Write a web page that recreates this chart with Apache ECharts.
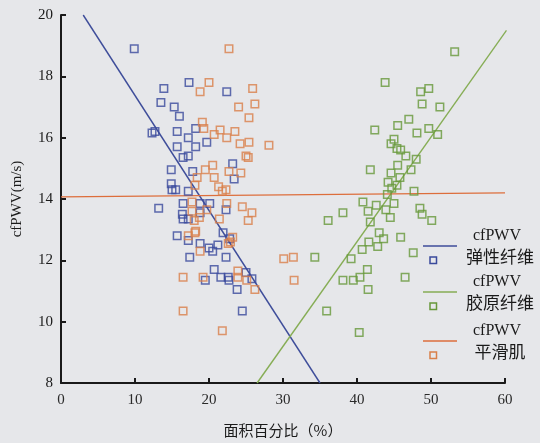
<!DOCTYPE html>
<html>
<head>
<meta charset="utf-8">
<script src="https://cdn.jsdelivr.net/npm/echarts@6/dist/echarts.min.js"></script>
<style>
html,body{margin:0;padding:0;background:#e6e7ea;}
#c{width:540px;height:443px;}
</style>
</head>
<body>
<div id="c"></div>
<script>
var xTicks = [0, 10, 20, 30, 40, 50, 60];
var yTicks = [8, 10, 12, 14, 16, 18, 20];
var seriesNames = ['cfPWV\n弹性纤维', 'cfPWV\n胶原纤维', 'cfPWV\n平滑肌'];

var elasticPts = [
  [9.9,18.9],[17.3,17.8],[13.9,17.6],[22.4,17.5],[13.5,17.15],[15.3,17.0],[16.0,16.7],
  [12.3,16.15],[12.7,16.2],[15.7,16.2],[17.2,16.0],[18.2,16.3],[19.7,15.85],[15.7,15.7],
  [18.2,15.7],[16.5,15.35],[17.2,15.4],[14.9,14.95],[17.8,14.9],[23.2,15.15],[23.4,14.65],
  [14.9,14.5],[15.0,14.3],[15.5,14.3],[17.2,14.25],[13.2,13.7],[16.5,13.85],[18.8,13.85],
  [20.1,13.85],[22.3,13.65],[16.4,13.5],[16.5,13.35],[17.2,13.35],[18.8,13.55],[15.7,12.8],
  [17.2,12.65],[18.8,12.55],[20.0,12.4],[20.5,12.3],[21.2,12.5],[22.3,12.1],[17.4,12.1],
  [20.7,11.7],[21.6,11.45],[22.6,11.45],[22.7,11.35],[19.5,11.35],[23.8,11.05],[25.0,11.6],
  [25.8,11.4],[24.5,10.35],[21.9,12.9],[22.8,12.7]
];
var collagenPts = [
  [53.2,18.8],[43.8,17.8],[49.7,17.6],[48.6,17.5],[48.8,17.1],[51.2,17.0],[47.0,16.6],
  [45.5,16.4],[42.4,16.25],[48.1,16.15],[49.7,16.3],[50.9,16.1],[45.0,15.95],[44.6,15.8],
  [45.4,15.65],[45.9,15.6],[46.6,15.4],[48.0,15.3],[45.5,15.1],[41.8,14.95],[47.3,14.95],
  [44.6,14.85],[45.8,14.7],[44.2,14.55],[45.4,14.45],[44.7,14.35],[47.7,14.25],[44.1,14.15],
  [40.8,13.9],[45.0,13.85],[42.6,13.8],[41.5,13.6],[43.9,13.65],[38.1,13.55],[48.5,13.7],
  [48.8,13.5],[44.5,13.4],[50.1,13.3],[36.1,13.3],[41.8,13.25],[43.0,12.9],[43.6,12.7],
  [45.9,12.75],[41.6,12.6],[42.8,12.45],[40.7,12.35],[47.6,12.25],[34.3,12.1],[39.2,12.05],
  [41.4,11.7],[40.4,11.45],[38.1,11.35],[39.5,11.35],[46.5,11.45],[41.5,11.05],[35.9,10.35],
  [40.3,9.65]
];
var smoothPts = [
  [22.7,18.9],[20.0,17.8],[18.8,17.5],[25.9,17.6],[26.2,17.1],[24.0,17.0],[25.4,16.65],
  [19.1,16.5],[19.3,16.3],[21.5,16.25],[20.7,16.1],[23.5,16.2],[22.4,16.0],[24.2,15.8],
  [25.4,15.85],[28.1,15.75],[25.3,15.35],[25.0,15.4],[20.5,15.1],[19.5,14.95],[22.7,14.9],
  [24.3,14.85],[18.4,14.7],[20.7,14.7],[18.1,14.45],[21.3,14.4],[21.8,14.25],[22.3,14.3],
  [17.7,13.9],[22.4,13.85],[24.5,13.75],[25.8,13.55],[17.7,13.6],[18.7,13.4],[19.7,13.65],
  [21.4,13.35],[25.3,13.3],[18.0,13.3],[18.2,12.95],[17.2,12.8],[18.1,12.9],[23.2,12.75],
  [22.6,12.55],[22.9,12.6],[18.8,12.3],[16.5,11.45],[19.2,11.45],[23.9,11.65],[23.9,11.45],
  [25.1,11.35],[26.2,11.05],[16.5,10.35],[21.8,9.7],[30.1,12.05],[31.4,12.1],[31.5,11.35]
];
var elasticFit = [[3.0,20.0],[35.0,8.0]];
var collagenFit = [[26.5,8.0],[60.2,19.5]];
var smoothFit = [[0,14.07],[60,14.2]];

var colors = ['#3a4a9c', '#67983a', '#d9804a'];
var lineColors = ['#3e4d9a', '#86ad55', '#dd6e3c'];

var chart = echarts.init(document.getElementById('c'), null, {renderer:'canvas'});

function scatter(data, i) {
  return {
    type: 'scatter', name: seriesNames[i], data: data, symbol: 'rect', symbolSize: 7.5,
    itemStyle: {color: 'rgba(0,0,0,0)', borderColor: colors[i], borderWidth: 1.5},
    z: 3
  };
}
function fit(data, i) {
  return {
    type: 'line', data: data, showSymbol: false, symbol: 'none',
    lineStyle: {color: lineColors[i], width: 1.4}, z: 2, silent: true
  };
}

var serif = 'Liberation Serif';
var legendItems = [];
var legendY = [235, 281, 330];
for (var i = 0; i < 3; i++) {
  var y0 = legendY[i];
  var parts = seriesNames[i].split('\n');
  legendItems.push({
    type: 'line', shape: {x1: 423, y1: y0 + 11, x2: 457, y2: y0 + 11},
    style: {stroke: lineColors[i], lineWidth: 1.4}
  });
  legendItems.push({
    type: 'rect', shape: {x: 430, y: y0 + 22, width: 6.5, height: 6.5},
    style: {fill: 'none', stroke: colors[i], lineWidth: 1.5}
  });
  legendItems.push({
    type: 'text', x: 497, y: y0 + 1,
    style: {text: parts[0], font: '16px "Liberation Serif"', fill: '#1a1a1a', align: 'center', verticalAlign: 'middle'}
  });
  legendItems.push({
    type: 'text', x: 500, y: y0 + 22,
    style: {text: parts[1], font: '17px "Noto Sans CJK SC"', fill: '#1a1a1a', align: 'center', verticalAlign: 'middle'}
  });
}

chart.setOption({
  backgroundColor: '#e6e7ea',
  animation: false,
  grid: {left: 61, right: 35, top: 15, bottom: 60},
  xAxis: {
    type: 'value', min: xTicks[0], max: xTicks[xTicks.length-1], interval: 10,
    name: '面积百分比（%）', nameLocation: 'middle', nameGap: 40,
    nameTextStyle: {fontFamily: 'Noto Sans CJK SC', fontSize: 15, color: '#1a1a1a'},
    axisLine: {lineStyle: {color: '#1a1a1a', width: 2}},
    axisTick: {inside: true, length: 5, lineStyle: {color: '#1a1a1a', width: 2}},
    axisLabel: {fontFamily: serif, fontSize: 15, color: '#2a2a2a', margin: 10},
    splitLine: {show: false}
  },
  yAxis: {
    type: 'value', min: yTicks[0], max: yTicks[yTicks.length-1], interval: 2,
    name: 'cfPWV(m/s)', nameLocation: 'middle', nameGap: 36,
    nameTextStyle: {fontFamily: serif, fontSize: 15, color: '#1a1a1a'},
    axisLine: {show: true, lineStyle: {color: '#1a1a1a', width: 2}},
    axisTick: {show: true, inside: true, length: 5, lineStyle: {color: '#1a1a1a', width: 2}},
    axisLabel: {fontFamily: serif, fontSize: 15, color: '#1a1a1a', margin: 8},
    splitLine: {show: false}
  },
  series: [
    fit(elasticFit, 0), fit(collagenFit, 1), fit(smoothFit, 2),
    scatter(elasticPts, 0), scatter(collagenPts, 1), scatter(smoothPts, 2)
  ],
  graphic: legendItems
});
</script>
</body>
</html>
